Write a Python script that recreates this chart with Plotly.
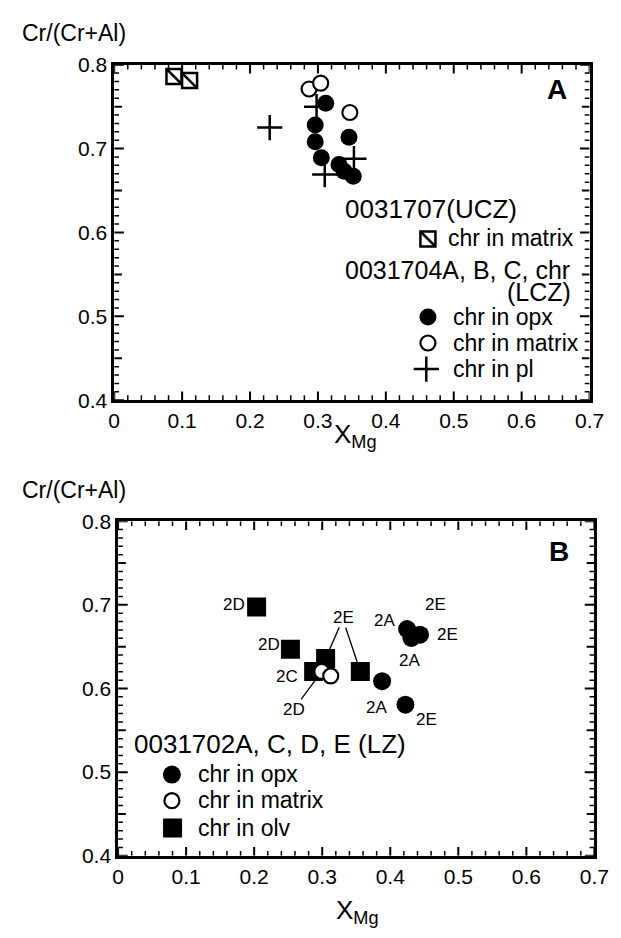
import plotly.graph_objects as go

W, H = 621, 938
FONT = "Liberation Sans, Arial, Helvetica, sans-serif"

# ---------------- Panel A data ----------------
a_sq_x = [0.088, 0.111]          # 0031707 chr in matrix
a_sq_y = [0.786, 0.781]
a_opx_x = [0.3115, 0.296, 0.296, 0.3457, 0.305, 0.331, 0.3386, 0.352]
a_opx_y = [0.754, 0.728, 0.708, 0.7136, 0.689, 0.681, 0.673, 0.667]
a_mat_x = [0.287, 0.304, 0.347]
a_mat_y = [0.771, 0.778, 0.743]
a_pl_x = [0.229, 0.298, 0.310, 0.353]
a_pl_y = [0.725, 0.750, 0.669, 0.688]

# ---------------- Panel B data ----------------
b_opx_x = [0.388, 0.4223, 0.4247, 0.4437, 0.431]
b_opx_y = [0.6087, 0.5807, 0.671, 0.6644, 0.6604]
b_mat_x = [0.2993, 0.3125]
b_mat_y = [0.6204, 0.615]
b_olv_x = [0.2036, 0.2533, 0.305, 0.2874, 0.356]
b_olv_y = [0.6974, 0.6469, 0.636, 0.6204, 0.6204]

# sample labels: (series, index, text, xshift, yshift)
b_labels = [
    ("olv", 0, "2D", -23, 3),
    ("olv", 1, "2D", -21, 5),
    ("olv", 3, "2C", -27, -5),
    ("opx", 0, "2A", -6, -26),
    ("opx", 1, "2E", 21, -15),
    ("opx", 2, "2A", -23, 9),
    ("opx", 3, "2E", 28, 0),
    ("opx", 3, "2E", 16, 30),
    ("opx", 4, "2A", -2, -23),
]
# leader-line labels: (series, index, text, ax, ay, standoff, text visible)
b_leaders = [
    ("olv", 2, "2E", 18, -41, 10, True),
    ("olv", 4, "2E", -18, -54, 10, False),
    ("mat", 0, "2D", -28, 38, 8, True),
]

series_b = {"opx": (b_opx_x, b_opx_y), "mat": (b_mat_x, b_mat_y), "olv": (b_olv_x, b_olv_y)}

# axis ranges and tick spacing
X_RANGE = [0, 0.7]
Y_RANGE = [0.4, 0.8]
X_MINOR, X_PER_MAJOR, X_N = 0.02, 5, 35
Y_MINOR, Y_PER_MID, Y_PER_MAJOR, Y_N = 0.01, 5, 10, 40

# panel frames in pixels: left, right, top, bottom
FRAME_A = (112, 604, 54, 398)
FRAME_B = (116, 609, 522, 865)

def to_data(frame, px, py):
    l, r, t, b = frame
    xs = X_RANGE[0] + (X_RANGE[1] - X_RANGE[0]) * (px - l) / (r - l)
    ys = Y_RANGE[1] - (Y_RANGE[1] - Y_RANGE[0]) * (py - t) / (b - t)
    return [xs], [ys]

fig = go.Figure()

def add(xa, ya, x, y, symbol, size, fill="black", lw=0):
    fig.add_trace(go.Scatter(
        x=x, y=y, xaxis=xa, yaxis=ya, mode="markers", showlegend=False,
        hoverinfo="skip",
        marker=dict(symbol=symbol, size=size, color=fill,
                    line=dict(color="black", width=lw))))

# Inward tick marks on all four sides, drawn as line traces on each panel's scales
def tick_traces(xa, ya, frame):
    l, r, t, b = frame
    pw, ph = r - l, b - t
    dxp = (X_RANGE[1] - X_RANGE[0]) / pw   # data units per pixel (x)
    dyp = (Y_RANGE[1] - Y_RANGE[0]) / ph   # data units per pixel (y)
    groups = {2.0: ([], []), 1.5: ([], [])}
    for k in range(X_N + 1):
        v = round(X_RANGE[0] + k * X_MINOR, 4)
        major = k % X_PER_MAJOR == 0
        ln = 9 if major else 5
        gx, gy = groups[2.0 if major else 1.5]
        gx += [v, v, None, v, v, None]
        gy += [Y_RANGE[0], Y_RANGE[0] + ln * dyp, None, Y_RANGE[1], Y_RANGE[1] - ln * dyp, None]
    for k in range(Y_N + 1):
        v = round(Y_RANGE[0] + k * Y_MINOR, 4)
        if k % Y_PER_MAJOR == 0:
            ln, w = 10, 2.0
        elif k % Y_PER_MID == 0:
            ln, w = 8, 2.0
        else:
            ln, w = 5, 1.5
        gx, gy = groups[w]
        gx += [X_RANGE[0], X_RANGE[0] + ln * dxp, None, X_RANGE[1], X_RANGE[1] - ln * dxp, None]
        gy += [v, v, None, v, v, None]
    for w, (gx, gy) in groups.items():
        fig.add_trace(go.Scatter(x=gx, y=gy, xaxis=xa, yaxis=ya, mode="lines",
                                 line=dict(color="black", width=w), showlegend=False,
                                 hoverinfo="skip", connectgaps=False))

tick_traces("x", "y", FRAME_A)
tick_traces("x2", "y2", FRAME_B)

# Panel A
add("x", "y", a_sq_x, a_sq_y, "square", 15, "white", 2.5)
add("x", "y", a_sq_x, a_sq_y, "line-nw", 15, "black", 2.5)
add("x", "y", a_mat_x, a_mat_y, "circle", 15, "white", 2.2)
add("x", "y", a_pl_x, a_pl_y, "cross-thin", 18, "black", 2.5)
add("x", "y", a_opx_x, a_opx_y, "circle", 17, "black", 0)

# Panel B
add("x2", "y2", b_olv_x, b_olv_y, "square", 19, "black", 0)
add("x2", "y2", b_mat_x, b_mat_y, "circle", 15, "white", 2.2)
add("x2", "y2", b_opx_x, b_opx_y, "circle", 18, "black", 0)

# Legend keys (placed by pixel position inside each panel)
def leg(frame, xa, ya, px, py, symbol, size, fill="black", lw=0):
    x, y = to_data(frame, px, py)
    add(xa, ya, x, y, symbol, size, fill, lw)

leg(FRAME_A, "x", "y", 436.7, 232.7, "square", 15, "white", 2.5)
leg(FRAME_A, "x", "y", 436.7, 232.7, "line-nw", 15, "black", 2.5)
leg(FRAME_A, "x", "y", 436.7, 312.7, "circle", 17)
leg(FRAME_A, "x", "y", 436.7, 339.3, "circle", 15, "white", 2.2)
leg(FRAME_A, "x", "y", 435, 366, "cross-thin", 18, "black", 2.5)
leg(FRAME_B, "x2", "y2", 171.7, 781.7, "circle", 18)
leg(FRAME_B, "x2", "y2", 171.7, 808.5, "circle", 15, "white", 2.2)
leg(FRAME_B, "x2", "y2", 172.4, 836.5, "square", 19)

def P(px, py):
    return px / W, 1 - py / H

ann = []
def text(px, py, s, size, xanchor="left", bold=False):
    x, y = P(px, py)
    ann.append(dict(x=x, y=y, xref="paper", yref="paper", text=("<b>%s</b>" % s if bold else s),
                    showarrow=False, xanchor=xanchor, yanchor="middle",
                    font=dict(family=FONT, size=size, color="black")))

# Panel A texts
text(14, 22, "Cr/(Cr+Al)", 23)
text(362, 434, "X<sub>Mg</sub>", 26, "center")
text(570, 79, "A", 28, "center", bold=True)
text(349, 202, "0031707(UCZ)", 26)
text(455, 232, "chr in matrix", 23)
text(349, 264, "0031704A, B, C, chr", 25)
text(587, 287, "(LCZ)", 25, "right")
text(461, 313, "chr in opx", 23)
text(461, 339, "chr in matrix", 23)
text(461, 366, "chr in pl", 23)

# Panel B texts
text(14, 490, "Cr/(Cr+Al)", 23)
text(364, 922, "X<sub>Mg</sub>", 26, "center")
text(572, 553, "B", 28, "center", bold=True)
text(130, 750, "0031702A, C, D, E (LZ)", 26)
text(197, 781, "chr in opx", 23)
text(197, 808, "chr in matrix", 23)
text(197, 836, "chr in olv", 23)

for s, i, t, xs, ys in b_labels:
    xs_, ys_ = series_b[s]
    ann.append(dict(x=xs_[i], y=ys_[i], xref="x2", yref="y2", text=t, showarrow=False,
                    xshift=xs, yshift=ys, font=dict(family=FONT, size=17, color="black")))
for s, i, t, ax, ay, so, vis in b_leaders:
    xs_, ys_ = series_b[s]
    ann.append(dict(x=xs_[i], y=ys_[i], xref="x2", yref="y2", text=t, showarrow=True,
                    ax=ax, ay=ay, arrowhead=0, arrowwidth=1.3, arrowcolor="black",
                    standoff=so, borderpad=0,
                    font=dict(family=FONT, size=17,
                              color="black" if vis else "rgba(0,0,0,0)")))

TICKFONT = dict(family=FONT, size=21, color="black")

def xaxis(frame, anchor):
    l, r, t, b = frame
    return dict(domain=[l / W, r / W], anchor=anchor, range=X_RANGE, dtick=0.1, ticks="",
                showline=True, linewidth=2.5, linecolor="#000000", mirror=True,
                showgrid=False, zeroline=False, tickfont=TICKFONT)

def yaxis(frame, anchor):
    l, r, t, b = frame
    return dict(domain=[1 - b / H, 1 - t / H], anchor=anchor, range=Y_RANGE, dtick=0.1, ticks="",
                showline=True, linewidth=2.5, linecolor="#000000", mirror=True,
                showgrid=False, zeroline=False, tickfont=TICKFONT)

fig.update_layout(
    width=W, height=H, margin=dict(l=0, r=0, t=0, b=0),
    paper_bgcolor="white", plot_bgcolor="white",
    font=dict(family=FONT, color="black"),
    xaxis=xaxis(FRAME_A, "y"),
    yaxis=yaxis(FRAME_A, "x"),
    xaxis2=xaxis(FRAME_B, "y2"),
    yaxis2=yaxis(FRAME_B, "x2"),
    annotations=ann, showlegend=False,
)

fig.write_html("out.html")
